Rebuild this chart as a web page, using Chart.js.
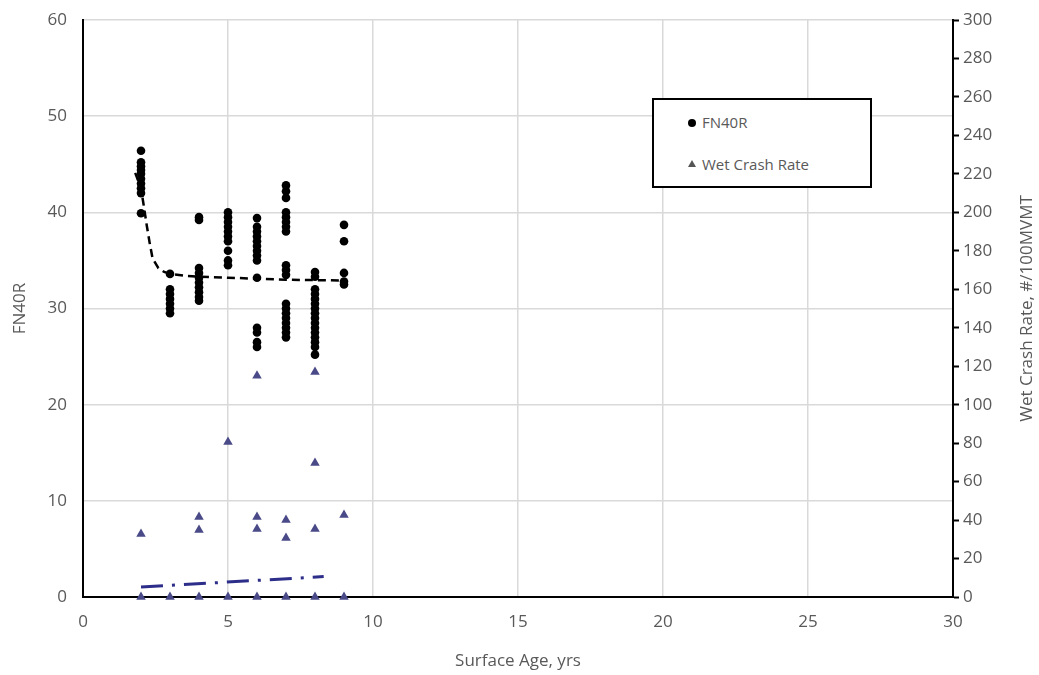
<!DOCTYPE html>
<html><head><meta charset="utf-8">
<script src="https://cdn.jsdelivr.net/npm/chart.js@4.4.1/dist/chart.umd.min.js"></script>
<style>
html,body{margin:0;padding:0;background:#fff;}
#wrap{position:relative;width:1039px;height:675px;}
#legend{position:absolute;left:652px;top:98px;width:216px;height:86px;border:2px solid #000;background:#fff;font-family:'Open Sans',sans-serif;font-size:15px;color:#595959;}
.li{position:absolute;left:34px;white-space:nowrap;}
.dot{display:inline-block;width:8px;height:8px;border-radius:50%;background:#000;margin-right:6px;vertical-align:middle;position:relative;top:-1px;}
.tri{display:inline-block;width:0;height:0;border-left:4px solid transparent;border-right:4px solid transparent;border-bottom:7px solid #555;margin-right:6px;vertical-align:middle;position:relative;top:-2px;}
</style></head>
<body><div id="wrap"><canvas id="c" width="1039" height="675"></canvas>
<div id="legend"><div class="li" style="top:12px"><span class="dot"></span>FN40R</div><div class="li" style="top:54px"><span class="tri"></span>Wet Crash Rate</div></div></div>
<script>
// Surface age (x) and FN40R values per age
const fnAges = [2,3,4,5,6,7,8,9];
const fnValues = [
  [46.4,45.2,44.8,44.4,44.0,43.5,43.0,42.5,42.0,39.9],
  [33.6,32.0,31.5,31.0,30.5,30.0,29.5],
  [39.5,39.2,34.2,33.7,33.2,32.7,32.2,31.7,31.2,30.8],
  [40.0,39.5,39.0,38.5,38.0,37.5,37.0,36.0,35.0,34.5],
  [39.4,38.5,38.0,37.5,37.0,36.5,36.0,35.5,35.0,33.2,28.0,27.5,26.5,26.0],
  [42.8,42.2,41.5,40.0,39.5,39.0,38.5,38.0,34.5,34.0,33.5,30.5,30.0,29.5,29.0,28.5,28.0,27.5,27.0],
  [33.8,33.3,32.0,31.5,31.0,30.5,30.0,29.5,29.0,28.5,28.0,27.5,27.0,26.5,26.0,25.2],
  [38.7,37.0,33.7,32.8,32.5]
];
// Wet crash rate values per age (#/100MVMT)
const wcAges = [2,3,4,5,6,7,8,9];
const wcValues = [
  [32.8,0],
  [0],
  [41.6,34.8,0],
  [80.6,0],
  [115,41.6,35.4,0],
  [40,30.7,0],
  [117,69.7,35.4,0],
  [42.6,0]
];
// Trend lines
const fnTrendX = [1.8,2.0,2.1,2.2,2.3,2.4,2.6,2.8,3.0,3.5,4,5,6,7,8,9.1];
const fnTrendY = [44.1,42.5,40.6,38.6,36.8,35.2,34.2,33.8,33.6,33.4,33.3,33.2,33.1,33.0,32.95,32.9];
const wcTrendX = [2.0,8.3];
const wcTrendY = [5.2,10.6];
const xTicks = [0,5,10,15,20,25,30];

const pts = (ages, vals) => ages.flatMap((a,i)=>vals[i].map(v=>({x:a,y:v})));
const line = (xs, ys) => xs.map((x,i)=>({x:x,y:ys[i]}));

const FONT = "'Open Sans', sans-serif";
const GRAY = '#595959';

const rightTitle = {
  id:'rightTitle',
  afterDraw(chart){
    const {ctx, chartArea} = chart;
    ctx.save();
    ctx.translate(1027, (chartArea.top+chartArea.bottom)/2);
    ctx.rotate(-Math.PI/2);
    ctx.font = "17px " + FONT;
    ctx.fillStyle = GRAY;
    ctx.textAlign='center';
    ctx.textBaseline='middle';
    ctx.fillText('Wet Crash Rate, #/100MVMT', 0, 0);
    ctx.restore();
  }
};

new Chart(document.getElementById('c'), {
  type:'scatter',
  data:{datasets:[
    {label:'FN40R trend', data:line(fnTrendX,fnTrendY), showLine:true, borderColor:'#000', borderWidth:2.5, borderDash:[8,5], pointRadius:0, yAxisID:'y', order:2},
    {label:'WCR trend', data:line(wcTrendX,wcTrendY), showLine:true, borderColor:'#2d2d8a', borderWidth:3, borderDash:[22,9,3,9], pointRadius:0, yAxisID:'y2', order:2},
    {label:'FN40R', data:pts(fnAges,fnValues), pointStyle:'circle', pointRadius:4.3, backgroundColor:'#000', borderColor:'#000', borderWidth:0, yAxisID:'y', order:1},
    {label:'Wet Crash Rate', data:pts(wcAges,wcValues), pointStyle:'triangle', pointRadius:5.5, backgroundColor:'#4a4a88', borderColor:'#4a4a88', borderWidth:0, yAxisID:'y2', order:1, clip:false}
  ]},
  options:{
    responsive:false, animation:false,
    layout:{padding:{top:20,right:0,left:0,bottom:0}},
    plugins:{legend:{display:false}, tooltip:{enabled:false}},
    scales:{
      x:{type:'linear', min:0, max:30,
        afterBuildTicks(s){ s.ticks = xTicks.map(v=>({value:v})); },
        afterFit(s){ s.height = 78; s.paddingLeft = 0; s.paddingRight = 0; },
        grid:{color:'#d9d9d9', lineWidth:1.5, drawTicks:false},
        border:{color:'#000', width:2},
        ticks:{color:GRAY, font:{family:FONT,size:17}, padding:15},
        title:{display:true, text:'Surface Age, yrs', color:GRAY, font:{family:FONT,size:17}, padding:{top:2}}
      },
      y:{position:'left', min:0, max:60,
        ticks:{stepSize:10, color:GRAY, font:{family:FONT,size:17}, padding:16},
        afterFit(s){ s.width = 83; s.paddingTop = 0; s.paddingBottom = 0; },
        grid:{color:'#d9d9d9', lineWidth:1.5, drawTicks:false},
        border:{color:'#000', width:2},
        title:{display:true, text:'FN40R', color:GRAY, font:{family:FONT,size:17}, padding:{top:10,bottom:0}}
      },
      y2:{position:'right', min:0, max:300,
        ticks:{stepSize:20, color:GRAY, font:{family:FONT,size:17}, padding:4},
        afterFit(s){ s.width = 86; s.paddingTop = 0; s.paddingBottom = 0; },
        grid:{drawOnChartArea:false, tickLength:6, color:'#000', tickWidth:2},
        border:{color:'#000', width:2}
      }
    }
  },
  plugins:[rightTitle]
});
</script></body></html>
